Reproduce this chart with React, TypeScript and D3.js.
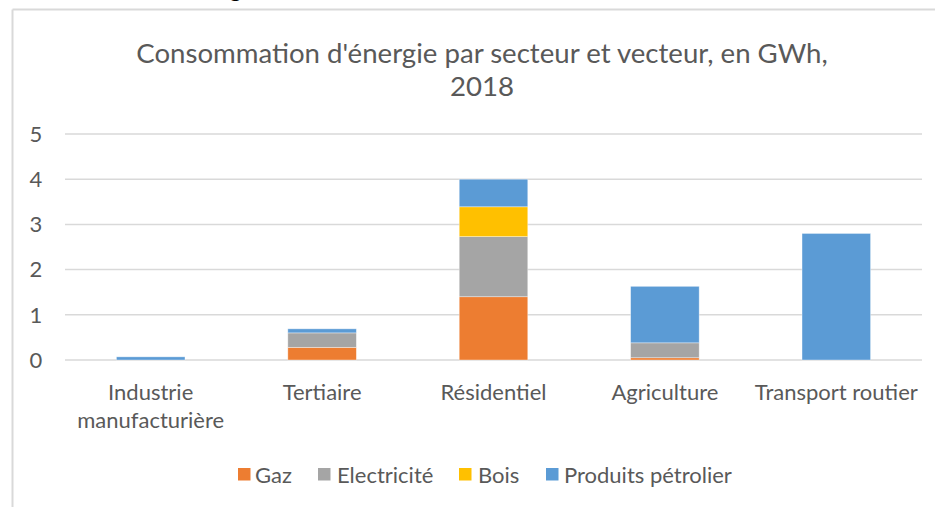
import React from "react";
import * as d3 from "d3";

const categories = ["Industrie manufacturière", "Tertiaire", "Résidentiel", "Agriculture", "Transport routier"];
const categoryLines = [["Industrie", "manufacturière"], ["Tertiaire"], ["Résidentiel"], ["Agriculture"], ["Transport routier"]];
const seriesNames = ["Gaz", "Electricité", "Bois", "Produits pétrolier"];
const gaz = [0, 0.28, 1.4, 0.05, 0];
const electricite = [0, 0.32, 1.33, 0.33, 0];
const bois = [0, 0, 0.66, 0, 0];
const petrole = [0.07, 0.09, 0.61, 1.25, 2.8];
const yTicks = [0, 1, 2, 3, 4, 5];
const colors = ["#ED7D31", "#A5A5A5", "#FFC000", "#5B9BD5"];

const W = 935;
const H = 507;
const FONT = "Lato, 'Open Sans', sans-serif";
const TXT = "#595959";

export default function App() {
  const seriesValues = [gaz, electricite, bois, petrole];
  const rows = categories.map((c, i) => {
    const r: any = { cat: c };
    seriesNames.forEach((s, j) => (r[s] = seriesValues[j][i]));
    return r;
  });
  const stacked = d3.stack().keys(seriesNames)(rows);

  const x = d3.scaleBand().domain(categories).range([65, 922]).paddingInner(0.6).paddingOuter(0.3);
  const y = d3.scaleLinear().domain([0, 5]).range([360, 134]);

  const legendItems = [
    { name: seriesNames[0], sx: 238, tx: 255 },
    { name: seriesNames[1], sx: 318, tx: 337 },
    { name: seriesNames[2], sx: 459, tx: 478 },
    { name: seriesNames[3], sx: 546, tx: 564 },
  ];

  return (
    <svg width={W} height={H} style={{ position: "absolute", left: 0, top: 0, background: "#fff" }} fontFamily={FONT}>
      <rect x={0} y={0} width={W} height={H} fill="#fff" />
      <text x={212} y={-3} fontSize={22} fill="#000" fontFamily={FONT}>Figure</text>
      <line x1={12.5} x2={12.5} y1={9.5} y2={H} stroke="#D9D9D9" strokeWidth={2} />
      <line x1={12.5} x2={W} y1={9.5} y2={9.5} stroke="#D9D9D9" strokeWidth={2} />
      <text x={482} y={63} textAnchor="middle" fontSize={27.6} fill={TXT}>
        Consommation d'énergie par secteur et vecteur, en GWh,
      </text>
      <text x={482} y={96} textAnchor="middle" fontSize={27.6} fill={TXT}>2018</text>
      {yTicks.map((t) => (
        <g key={t}>
          <line x1={65} x2={922} y1={y(t)} y2={y(t)} stroke="#D9D9D9" strokeWidth={1.5} />
          <text x={36} y={y(t)} dy="0.35em" textAnchor="middle" fontSize={22} fill={TXT}>{t}</text>
        </g>
      ))}
      {stacked.map((s, si) => (
        <g key={s.key} fill={colors[si]}>
          {s.map((d, i) => {
            const h = y(d[0]) - y(d[1]);
            if (h <= 0) return null;
            return (
              <rect key={i} x={x(categories[i])} y={y(d[1])} width={x.bandwidth()} height={h}
                stroke="#fff" strokeOpacity={0.5} strokeWidth={0.75} />
            );
          })}
        </g>
      ))}
      {categories.map((c, i) => (
        <text key={c} x={(x(c) as number) + x.bandwidth() / 2} y={400} textAnchor="middle" fontSize={22} fill={TXT}>
          {categoryLines[i].map((l, k) => (
            <tspan key={k} x={(x(c) as number) + x.bandwidth() / 2} dy={k === 0 ? 0 : 28}>{l}</tspan>
          ))}
        </text>
      ))}
      {legendItems.map((it, i) => (
        <g key={it.name}>
          <rect x={it.sx} y={468} width={12.5} height={12.5} fill={colors[i]} />
          <text x={it.tx} y={475} dy="0.35em" fontSize={22} fill={TXT}>{it.name}</text>
        </g>
      ))}
    </svg>
  );
}
